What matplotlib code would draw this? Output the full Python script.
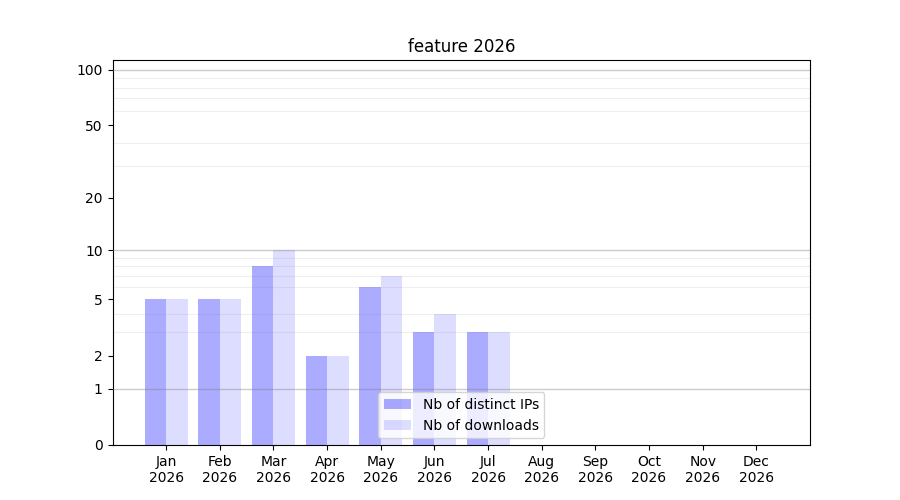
import numpy as np
import matplotlib
matplotlib.use("Agg")
import matplotlib.pyplot as plt
from matplotlib.ticker import FixedLocator

months = ["Jan", "Feb", "Mar", "Apr", "May", "Jun", "Jul", "Aug", "Sep", "Oct", "Nov", "Dec"]
year = "2026"
distinct_ips = [5, 5, 8, 2, 6, 3, 3, 0, 0, 0, 0, 0]
downloads = [5, 5, 10, 2, 7, 4, 3, 0, 0, 0, 0, 0]
ytick_vals = [0, 1, 2, 5, 10, 20, 50, 100]


def fwd(y):
    return np.log10(1 + np.maximum(y, 0))


def inv(y):
    return 10 ** y - 1


fig, ax = plt.subplots(figsize=(9, 5), dpi=100)
x = np.arange(len(months))
w = 0.4
ax.bar(x - w / 2, distinct_ips, w, color="blue", alpha=0.33, label="Nb of distinct IPs")
ax.bar(x + w / 2, downloads, w, color="blue", alpha=0.135, label="Nb of downloads")

ax.set_yscale("function", functions=(fwd, inv))
ax.set_ylim(0, 113)
ax.yaxis.set_major_locator(FixedLocator(ytick_vals))
ax.set_yticklabels([str(v) for v in ytick_vals])
minor = [v for v in range(2, 10)] + [v for v in range(20, 100, 10)]
ax.yaxis.set_minor_locator(FixedLocator(minor))
ax.tick_params(axis="y", which="minor", length=0)

# darker lines at the decades, faint lines in between
for v in [1, 10, 100]:
    ax.axhline(v, color="gray", alpha=0.4, linewidth=1, zorder=3)
ax.grid(axis="y", which="minor", color="gray", alpha=0.12, linewidth=0.8)

ax.set_xticks(x)
ax.set_xticklabels([m + "\n" + year for m in months])
ax.set_xlim(-1, 12)
ax.set_title("feature 2026")
ax.legend(loc="lower center")

plt.savefig("out.png")
